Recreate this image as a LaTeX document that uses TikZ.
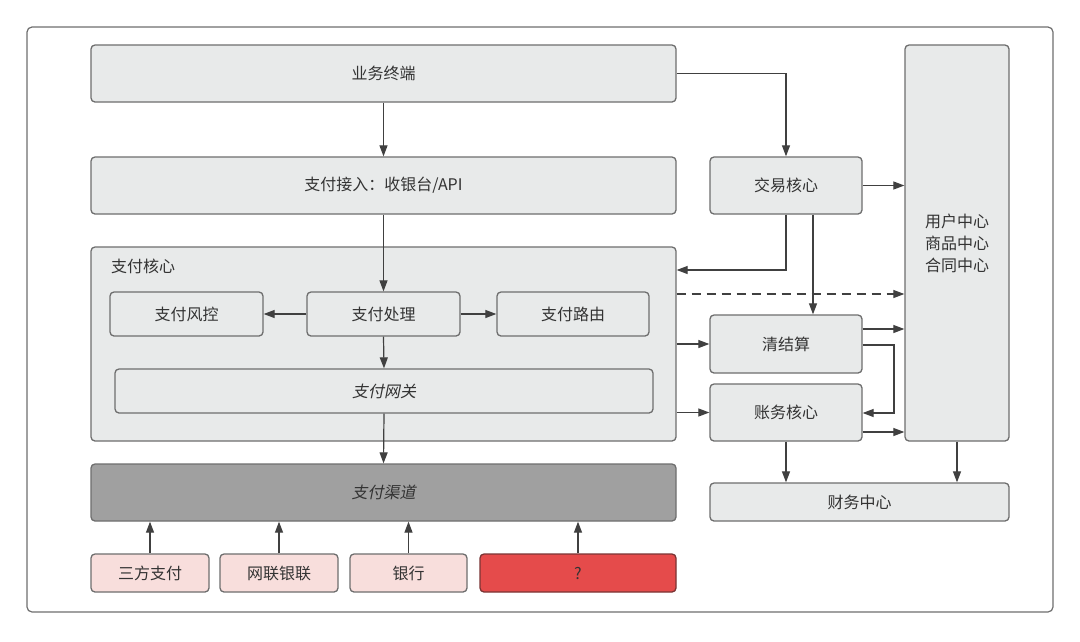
\documentclass[tikz,border=0pt]{standalone}
\usepackage{fontspec}
\setmainfont{Noto Sans CJK SC}
\newfontfamily\cjkit[FakeSlant=0.2]{Noto Sans CJK SC}
\usetikzlibrary{arrows.meta,calc}
\definecolor{boxfill}{HTML}{E8EAEA}
\definecolor{boxline}{HTML}{6E6E6E}
\definecolor{txt}{HTML}{333333}
\definecolor{chan}{HTML}{A0A0A0}
\definecolor{pinkfill}{HTML}{F8DEDC}
\definecolor{redfill}{HTML}{E54B4B}
\definecolor{redline}{HTML}{7A3434}
\tikzset{
  box/.style={draw=boxline, fill=boxfill, line width=1.3pt, rounded corners=4pt,
    inner sep=0pt, text=txt, font=\fontsize{16}{19}\selectfont},
  pinkbox/.style={box, fill=pinkfill},
  redbox/.style={box, fill=redfill, draw=redline},
  arr/.style={draw=black!75, line width=1.2pt, -{Triangle[length=11pt,width=8pt]}},
}
\begin{document}
\begin{tikzpicture}[x=1pt,y=-1pt]
\useasboundingbox (0,0) rectangle (1080,641);
\draw[draw=boxline, line width=1.2pt, rounded corners=5pt, fill=white] (27,27) rectangle (1053,612);

% helper coordinates
\coordinate (y270) at (0,270);
\coordinate (y294) at (0,294);
\coordinate (y329) at (0,329);
\coordinate (y345) at (0,345);
\coordinate (y413) at (0,413);
\coordinate (y432) at (0,432);
\coordinate (x894) at (894,0);

% left column
\node[box, minimum width=585pt, minimum height=57pt] (yw) at (383.5,73.5) {业务终端};
\node[box, minimum width=585pt, minimum height=57pt] (jr) at (383.5,185.5) {支付接入：收银台/API};
\node[box, minimum width=585pt, minimum height=194pt] (zh) at (383.5,344) {};
\node[anchor=west, inner sep=0pt, text=txt, font=\fontsize{16}{19}\selectfont] (zhl) at (111,266) {支付核心};
\node[box, minimum width=153pt, minimum height=44pt] (fk) at (186.5,314) {支付风控};
\node[box, minimum width=153pt, minimum height=44pt] (cl) at (383.5,314) {支付处理};
\node[box, minimum width=152pt, minimum height=44pt] (ly) at (573,314) {支付路由};
\node[box, minimum width=538pt, minimum height=44pt] (wg) at (384,391) {\cjkit 支付网关};
\node[box, fill=chan, minimum width=585pt, minimum height=57pt] (qd) at (383.5,492.5) {\cjkit 支付渠道};

\node[pinkbox, minimum width=118pt, minimum height=38pt] (sf) at (150,573) {三方支付};
\node[pinkbox, minimum width=118pt, minimum height=38pt] (wl) at (279,573) {网联银联};
\node[pinkbox, minimum width=117pt, minimum height=38pt] (yh2) at (408.5,573) {银行};
\node[redbox, minimum width=196pt, minimum height=38pt] (qm) at (578,573) {?};

% right column
\node[box, minimum width=104pt, minimum height=396pt, align=center, font=\fontsize{16}{22}\selectfont] (yh) at (957,243) {用户中心\\商品中心\\合同中心};
\node[box, minimum width=152pt, minimum height=57pt] (jy) at (786,185.5) {交易核心};
\node[box, minimum width=152pt, minimum height=58pt] (qj) at (786,344) {清结算};
\node[box, minimum width=152pt, minimum height=57pt] (zw) at (786,412.5) {账务核心};
\node[box, minimum width=299pt, minimum height=38pt] (cw) at (859.5,502) {财务中心};

% connectors left
\draw[arr] (yw.south) -- (jr.north);
\draw[arr] (jr.south) -- (cl.north);
\draw[arr] (cl.west) -- (fk.east);
\draw[arr] (cl.east) -- (ly.west);
\draw[arr] (cl.south) -- (wg.north);
\draw[arr] (wg.south) -- (qd.north);
\draw[arr] (sf.north) -- (sf.north |- qd.south);
\draw[arr] (wl.north) -- (wl.north |- qd.south);
\draw[arr] (yh2.north) -- (yh2.north |- qd.south);
\draw[arr] (qm.north) -- (qm.north |- qd.south);

% connectors right
\draw[arr] (yw.east) -| (jy.north);
\draw[arr] (jy.east) -- (jy.east -| yh.west);
\draw[arr] (jy.south) |- (zh.east |- y270);
\draw[arr] ([xshift=27pt]jy.south) -- ([xshift=27pt]qj.north);
\draw[arr, dashed, dash pattern=on 9pt off 6pt] (zh.east |- y294) -- (yh.west |- y294);
\draw[arr] (qj.east |- y329) -- (yh.west |- y329);
\draw[arr] (qj.east |- y345) -| (x894 |- y413) -- (zw.east |- y413);
\draw[arr] (zh.east |- qj.west) -- (qj.west);
\draw[arr] (zh.east |- zw.west) -- (zw.west);
\draw[arr] (zw.east |- y432) -- (yh.west |- y432);
\draw[arr] (zw.south) -- (zw.south |- cw.north);
\draw[arr] (yh.south) -- (yh.south |- cw.north);
\end{tikzpicture}
\end{document}
